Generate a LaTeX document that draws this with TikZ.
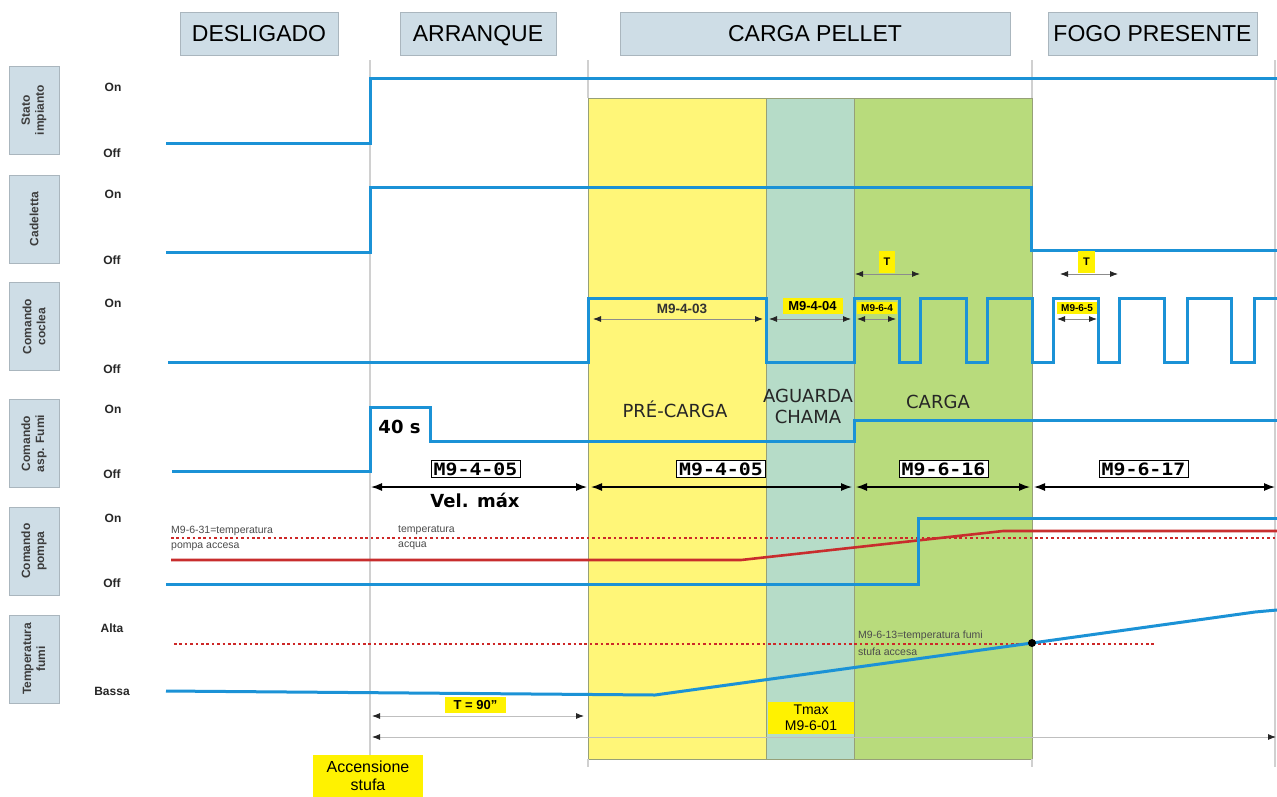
\documentclass[tikz,border=0pt]{standalone}
\usepackage{graphicx}
\usepackage{fontspec}
\setmainfont{Liberation Sans}
\newfontfamily\dvs{DejaVu Sans}
\newfontfamily\dvm{DejaVu Sans Mono}
\usetikzlibrary{arrows.meta}
\newcommand\myfs[1]{\fontsize{#1}{#1}\selectfont}
\newcommand\myfsb[2]{\fontsize{#1}{#2}\selectfont}
\definecolor{sig}{RGB}{27,146,214}
\definecolor{hdr}{RGB}{206,221,230}
\definecolor{hdrb}{RGB}{170,182,190}
\definecolor{ryel}{RGB}{255,246,120}
\definecolor{rteal}{RGB}{182,220,200}
\definecolor{rgreen}{RGB}{184,219,124}
\definecolor{rborder}{RGB}{150,160,120}
\definecolor{hil}{RGB}{255,242,0}
\definecolor{rred}{RGB}{200,45,45}
\definecolor{gline}{RGB}{208,208,208}
\definecolor{sidetxt}{RGB}{60,60,60}
\tikzset{
  hdrbox/.style={draw=hdrb, fill=hdr, line width=0.8pt, inner sep=0pt, minimum height=43, text height=16.5pt, text depth=0pt, font=\myfs{23}},
  sidebox/.style={draw=hdrb, fill=hdr, line width=0.8pt, inner sep=0pt, rotate=90, minimum width=88, minimum height=50, align=center, text=sidetxt, font=\bfseries\myfsb{12}{14}},
  lvl/.style={font=\bfseries\myfs{12}, text=black!85, inner sep=0pt},
  sigline/.style={draw=sig, line width=3pt},
  region/.style={draw=rborder, line width=0.8pt},
  vline/.style={draw=gline, line width=1.5pt},
  bigarr/.style={line width=1.3pt, {Latex[length=11pt,width=8pt]}-{Latex[length=11pt,width=8pt]}},
  smallarr/.style={draw=black!45, line width=0.8pt, {Latex[length=8pt,width=6pt,color=black!85]}-{Latex[length=8pt,width=6pt,color=black!85]}},
  monobox/.style={draw=black, line width=1pt, fill=white, inner sep=0pt, minimum width=89, minimum height=17, font=\dvm\bfseries\myfs{17}},
  hibox/.style={fill=hil, inner sep=0pt, font=\bfseries\myfs{13}},
  phase/.style={font=\dvs\myfs{18}, text=black!85, inner sep=0pt},
  small/.style={font=\myfs{10.5}, text=black!70, inner sep=0pt, anchor=west},
  reddot/.style={draw=rred!90!red, line width=2.8pt, dash pattern=on 2.6pt off 2.8pt},
}
\begin{document}
\begin{tikzpicture}[x=1pt,y=-1pt]
\useasboundingbox (0,0) rectangle (1277,796);
\fill[white] (0,0) rectangle (1277,796);

% phase regions
\fill[ryel] (588,98) rectangle (766,759);
\fill[rteal] (766,98) rectangle (854,759);
\fill[rgreen] (854,98) rectangle (1032,759);
\draw[region] (588,98) rectangle (766,759);
\draw[region] (766,98) rectangle (854,759);
\draw[region] (854,98) rectangle (1032,759);

% vertical guides
\draw[vline] (370,60) -- (370,767);
\draw[vline] (588,60) -- (588,98) (588,759) -- (588,767);
\draw[vline] (1032,60) -- (1032,98) (1032,759) -- (1032,767);
\draw[vline] (1275,60) -- (1275,767);

% header boxes
\node[hdrbox, minimum width=158] (hDes) at (259,33.5) {DESLIGADO};
\node[hdrbox, minimum width=156] (hArr) at (478,33.5) {ARRANQUE};
\node[hdrbox, minimum width=390] (hCar) at (815,33.5) {CARGA PELLET};
\node[hdrbox, minimum width=209] (hFog) at (1152.5,33.5) {FOGO PRESENTE};

% side boxes
\node[sidebox] (sStato) at (34,110) {Stato\\impianto};
\node[sidebox] (sCad) at (34,219) {Cadeletta};
\node[sidebox] (sCoc) at (34,326.5) {Comando\\coclea};
\node[sidebox] (sFum) at (34,443.5) {Comando\\asp. Fumi};
\node[sidebox] (sPom) at (34,551) {Comando\\pompa};
\node[sidebox] (sTem) at (34,659) {Temperatura\\fumi};

% level labels
\node[lvl] (l1a) at (113,87) {On};
\node[lvl] (l1b) at (112,153) {Off};
\node[lvl] (l2a) at (113,194) {On};
\node[lvl] (l2b) at (112,260) {Off};
\node[lvl] (l3a) at (113,303) {On};
\node[lvl] (l3b) at (112,369) {Off};
\node[lvl] (l4a) at (113,409) {On};
\node[lvl] (l4b) at (112,474) {Off};
\node[lvl] (l5a) at (113,518) {On};
\node[lvl] (l5b) at (112,583) {Off};
\node[lvl] (l6a) at (112,628) {Alta};
\node[lvl] (l6b) at (112,691) {Bassa};

% red temperature lines
\draw[reddot] (171,538) -- (1277,538);
\draw[reddot] (174,644) -- (1154,644);
\draw[draw=rred, line width=2.6pt] (171,560) -- (741,560) -- (1003,531) -- (1277,531);

% signals
\draw[sigline] (166,143) -- (370,143) -- (370,78) -- (1277,78);
\draw[sigline] (166,252) -- (370,252) -- (370,187) -- (1031,187) -- (1031,250) -- (1277,250);
\draw[sigline] (168,362) -- (588,362) -- (588,298) -- (766,298) -- (766,362) -- (854,362) -- (854,298)
  -- (899,298) -- (899,362) -- (920,362) -- (920,298) -- (966,298) -- (966,362) -- (987,362) -- (987,298)
  -- (1032,298) -- (1032,362) -- (1053,362) -- (1053,298) -- (1098,298) -- (1098,362) -- (1119,362) -- (1119,298)
  -- (1164,298) -- (1164,362) -- (1187,362) -- (1187,298) -- (1231,298) -- (1231,362) -- (1254,362) -- (1254,298) -- (1277,298);
\draw[sigline] (172,471) -- (370,471) -- (370,407) -- (430,407) -- (430,441) -- (854,441) -- (854,420) -- (1277,420);
\draw[sigline] (166,584) -- (918,584) -- (918,518) -- (1277,518);
\draw[sigline] (166,691) -- (655,695) -- (1032,643) -- (1255,612) -- (1277,610);
\fill[black] (1032,643) circle (4);

% small annotation texts
\node[small] (t31a) at (171,531) {M9-6-31=temperatura};
\node[small] (t31b) at (171,547) {pompa accesa};
\node[small] (tacqa) at (398,530) {temperatura};
\node[small] (tacqb) at (398,546) {acqua};
\node[small] (t13a) at (858,636) {M9-6-13=temperatura fumi};
\node[small] (t13b) at (858,652) {stufa accesa};

% coclea timing annotations
\coordinate (c403a) at (593,319); \coordinate (c403b) at (763,319);
\draw[smallarr] (c403a) -- (c403b);
\node[font=\bfseries\myfs{13.5}, text=black!80, inner sep=0pt] (n403) at (682,309) {M9-4-03};
\coordinate (c404a) at (769,319); \coordinate (c404b) at (851,319);
\draw[smallarr] (c404a) -- (c404b);
\node[hibox, minimum width=60, minimum height=16] (n404) at (812.5,306) {M9-4-04};
\coordinate (c64a) at (857,319); \coordinate (c64b) at (896,319);
\node[hibox, minimum width=40, minimum height=12, font=\bfseries\myfs{10}] (n64) at (877,308) {M9-6-4};
\draw[smallarr] (c64a) -- (c64b);
\coordinate (c65a) at (1057,319); \coordinate (c65b) at (1097,319);
\node[hibox, minimum width=40, minimum height=12, font=\bfseries\myfs{10}] (n65) at (1077,308) {M9-6-5};
\draw[smallarr] (c65a) -- (c65b);
\node[hibox, minimum width=16, minimum height=22, font=\bfseries\myfs{11}] (nT1) at (887,261.5) {T};
\node[hibox, minimum width=17, minimum height=22, font=\bfseries\myfs{11}] (nT2) at (1086.5,261.5) {T};
\coordinate (cT1a) at (855,274); \coordinate (cT1b) at (920,274);
\coordinate (cT2a) at (1060,274); \coordinate (cT2b) at (1118,274);
\draw[smallarr] (cT1a) -- (cT1b);
\draw[smallarr] (cT2a) -- (cT2b);

% phase labels
\node[phase] (pPre) at (675,409) {PRÉ-CARGA};
\node[phase] (pAg1) at (808,396) {AGUARDA};
\node[phase] (pAg2) at (808,417) {CHAMA};
\node[phase] (pCar) at (938,402) {CARGA};
\node[font=\dvs\bfseries\myfs{18}, inner sep=0pt] (n40) at (399.5,427) {40 s};

% main duration arrows
\coordinate (a1) at (371,487); \coordinate (a2) at (587,487);
\coordinate (a3) at (591,487); \coordinate (a4) at (852,487);
\coordinate (a5) at (856,487); \coordinate (a6) at (1030,487);
\coordinate (a7) at (1034,487); \coordinate (a8) at (1275,487);
\draw[bigarr] (a1) -- (a2);
\draw[bigarr] (a3) -- (a4);
\draw[bigarr] (a5) -- (a6);
\draw[bigarr] (a7) -- (a8);
\node[monobox] (m1) at (475.5,469) {\scalebox{1.17}[1]{M9-4-05}};
\node[monobox] (m2) at (721,469) {\scalebox{1.17}[1]{M9-4-05}};
\node[monobox] (m3) at (943.5,469) {\scalebox{1.17}[1]{M9-6-16}};
\node[monobox] (m4) at (1143.5,469) {\scalebox{1.17}[1]{M9-6-17}};
\node[font=\dvs\bfseries\myfs{18}, inner sep=0pt] (vel) at (475,500) {Vel. máx};

% bottom arrows
\coordinate (b1) at (372,716); \coordinate (b2) at (584,716);
\coordinate (b3) at (372,737); \coordinate (b4) at (1276,737);
\draw[smallarr, draw=black!25] (b1) -- (b2);
\draw[smallarr, draw=black!25] (b3) -- (b4);
\node[hibox, minimum width=61, minimum height=16] (t90) at (475.5,705) {T = 90”};
\node[fill=hil, inner sep=0pt, minimum width=86, minimum height=32, align=center, font=\myfsb{14}{16}] (tmax) at (811,718) {Tmax\\M9-6-01};
\node[fill=hil, inner sep=0pt, minimum width=110, minimum height=42, align=center, font=\myfsb{16}{18}] (acc) at (368,776) {Accensione\\stufa};
\end{tikzpicture}
\end{document}
